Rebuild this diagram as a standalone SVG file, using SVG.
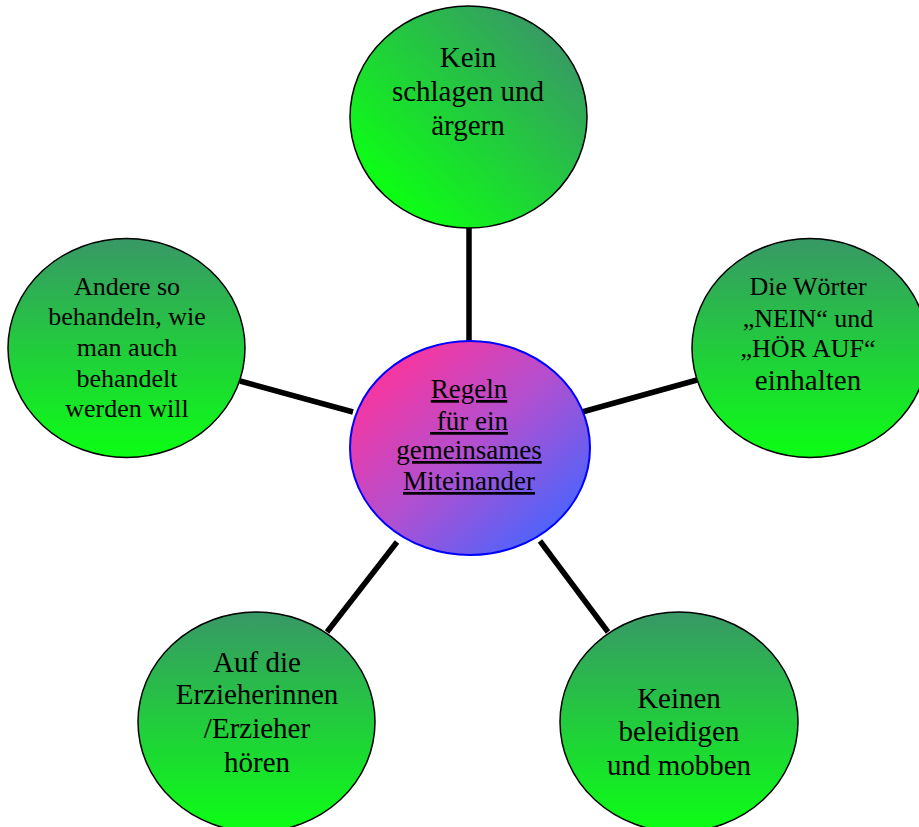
<svg xmlns="http://www.w3.org/2000/svg" width="919" height="827" viewBox="0 0 919 827">
<defs>
<linearGradient id="gv" x1="0" y1="0" x2="0" y2="1">
<stop offset="0" stop-color="#389866"/>
<stop offset="1" stop-color="#0cff14"/>
</linearGradient>
<linearGradient id="gd" x1="1" y1="0" x2="0" y2="1">
<stop offset="0.12" stop-color="#389866"/>
<stop offset="0.85" stop-color="#0cff14"/>
</linearGradient>
<linearGradient id="gc" x1="0.1" y1="0.1" x2="0.9" y2="0.9">
<stop offset="0" stop-color="#ff3399"/>
<stop offset="0.5" stop-color="#b24fd0"/>
<stop offset="1" stop-color="#4466ff"/>
</linearGradient>
</defs>
<style>
.n{stroke:#000;stroke-width:1.5}
.c{fill:url(#gc);stroke:#0000ff;stroke-width:2}
text{font-family:"Liberation Serif","Times New Roman",serif;fill:#000;text-anchor:middle}
.s26{font-size:26px}
.s27{font-size:27px}
.s29{font-size:29px}
.u{text-decoration:underline}
.e{stroke:#000;stroke-width:5.5;fill:none}
</style>
<g id="connectors">
<line class="e" x1="469" y1="228" x2="469" y2="341"/>
<line class="e" x1="240" y1="381" x2="353" y2="412"/>
<line class="e" x1="582" y1="412" x2="697" y2="380"/>
<line class="e" x1="397" y1="542" x2="327" y2="632"/>
<line class="e" x1="540" y1="541" x2="608" y2="632"/>
</g>
<g id="center">
<ellipse class="c" cx="470" cy="448" rx="120" ry="107"/>
<text class="s27 u" x="469" y="398">Regeln</text>
<text class="s27 u" x="469" y="430" xml:space="preserve"> für ein</text>
<text class="s27 u" x="469" y="459">gemeinsames</text>
<text class="s27 u" x="469" y="490">Miteinander</text>
</g>
<g id="top">
<ellipse class="n" fill="url(#gd)" cx="468.5" cy="117" rx="118.5" ry="111"/>
<text class="s29" x="468" y="67">Kein</text>
<text class="s29" x="468" y="101">schlagen und</text>
<text class="s29" x="468" y="135">ärgern</text>
</g>
<g id="left">
<ellipse class="n" fill="url(#gv)" cx="126.5" cy="348" rx="118.5" ry="109.5"/>
<text class="s26" x="127" y="295">Andere so</text>
<text class="s26" x="127" y="325">behandeln, wie</text>
<text class="s26" x="127" y="356">man auch</text>
<text class="s26" x="127" y="387">behandelt</text>
<text class="s26" x="127" y="417">werden will</text>
</g>
<g id="right">
<ellipse class="n" fill="url(#gv)" cx="810" cy="348" rx="118" ry="109.5"/>
<text class="s26" x="808" y="295">Die Wörter</text>
<text class="s26" x="808" y="327">„NEIN“ und</text>
<text class="s26" x="808" y="357">„HÖR AUF“</text>
<text class="s29" x="808" y="390">einhalten</text>
</g>
<g id="bottomleft">
<ellipse class="n" fill="url(#gv)" cx="256.5" cy="722" rx="118.5" ry="110"/>
<text class="s29" x="257" y="672">Auf die</text>
<text class="s29" x="257" y="704">Erzieherinnen</text>
<text class="s29" x="257" y="738">/Erzieher</text>
<text class="s29" x="257" y="772">hören</text>
</g>
<g id="bottomright">
<ellipse class="n" fill="url(#gv)" cx="679" cy="722" rx="119" ry="110"/>
<text class="s29" x="679" y="708">Keinen</text>
<text class="s29" x="679" y="741">beleidigen</text>
<text class="s29" x="679" y="775">und mobben</text>
</g>
</svg>
